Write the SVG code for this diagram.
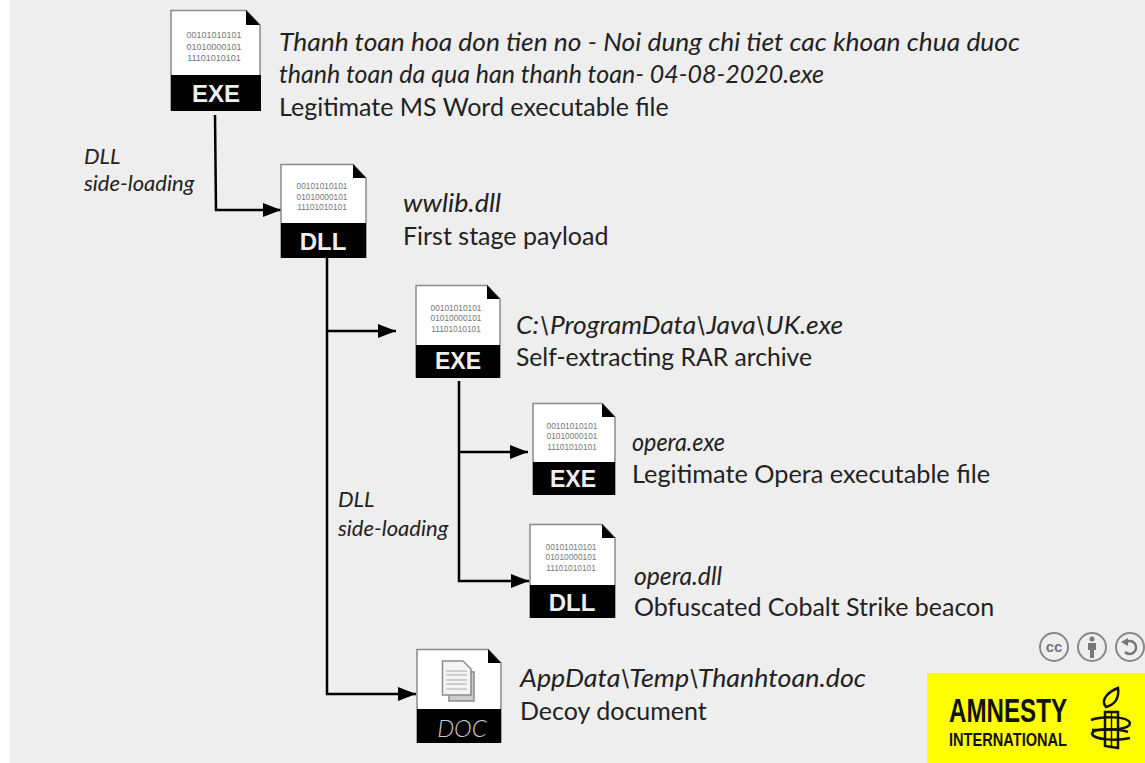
<svg xmlns="http://www.w3.org/2000/svg" width="1145" height="763" viewBox="0 0 1145 763">
<style>
text{font-family:"Lato","Open Sans","Liberation Sans",sans-serif;fill:#222}
.t{font-size:25px}
.i{font-size:26px;font-style:italic}
.s{font-size:22px;font-style:italic}
.body{fill:#fff;stroke:#8a8a8a;stroke-width:1.5}
.fold{fill:#000}
.band{fill:#000}
.lab{font-weight:700;font-size:23px;fill:#eee;text-anchor:middle;font-family:"Liberation Sans",sans-serif}
.bin{font-size:8.300px;fill:#777;text-anchor:middle;font-family:"Liberation Sans",sans-serif}
.c{fill:none;stroke:#000;stroke-width:2.500}
.cc{fill:none;stroke:#888;stroke-width:2}
.logo{font-family:"Liberation Sans",sans-serif;font-weight:700;fill:#111}
</style>
<defs>
<marker id="a" markerUnits="userSpaceOnUse" markerWidth="20" markerHeight="14" refX="18" refY="7" orient="auto"><path d="M0 0L18 7L0 14z" fill="#000"/></marker>
</defs>
<rect width="1145" height="763" fill="#ffffff"/>
<rect x="10" width="1135" height="763" fill="#eeeeee"/>
<g id="connectors">
<path class="c" d="M215 115L216 210H281" marker-end="url(#a)"/>
<path class="c" d="M327 258V694H416" marker-end="url(#a)"/>
<path class="c" d="M327 331H396" marker-end="url(#a)"/>
<path class="c" d="M459 381V581H529" marker-end="url(#a)"/>
<path class="c" d="M459 452H528" marker-end="url(#a)"/>
</g>
<g id="node-exe1">
<path class="body" d="M171 10.500H246L260 25V110H171z"/>
<path class="fold" d="M246 10L260 25H246z"/>
<rect class="band" x="171" y="75" width="90" height="36"/>
<text class="lab" x="216" y="102" style="font-size:24px">EXE</text>
<text class="bin" x="214" y="38" style="font-size:9px">00101010101</text>
<text class="bin" x="214" y="50" style="font-size:9px">01010000101</text>
<text class="bin" x="214" y="61" style="font-size:9px">11101010101</text>
<text class="i" x="279" y="51" textLength="741" lengthAdjust="spacingAndGlyphs">Thanh toan hoa don tien no - Noi dung chi tiet cac khoan chua duoc</text>
<text class="i" x="279" y="83" textLength="545" lengthAdjust="spacingAndGlyphs">thanh toan da qua han thanh toan- 04-08-2020.exe</text>
<text class="t" x="279" y="116">Legitimate MS Word executable file</text>
</g>
<g id="node-dll1">
<path class="body" d="M281 164.500H353L366 178V257H281z"/>
<path class="fold" d="M353 164L366 178H353z"/>
<rect class="band" x="281" y="223" width="85" height="35"/>
<text class="lab" x="323" y="250" style="font-size:24px">DLL</text>
<text class="bin" x="322" y="189">00101010101</text>
<text class="bin" x="322" y="200">01010000101</text>
<text class="bin" x="322" y="210">11101010101</text>
<text class="i" x="403" y="212" textLength="98" lengthAdjust="spacingAndGlyphs">wwlib.dll</text>
<text class="t" x="403" y="245">First stage payload</text>
</g>
<g id="node-exe2">
<path class="body" d="M416 285.500H487L500 299V377H416z"/>
<path class="fold" d="M487 285L500 299H487z"/>
<rect class="band" x="416" y="345" width="84" height="33"/>
<text class="lab" x="458" y="369">EXE</text>
<text class="bin" x="456" y="311">00101010101</text>
<text class="bin" x="456" y="321">01010000101</text>
<text class="bin" x="456" y="332">11101010101</text>
<text class="i" x="516" y="334" textLength="327" lengthAdjust="spacingAndGlyphs">C:\ProgramData\Java\UK.exe</text>
<text class="t" x="516" y="366" textLength="296" lengthAdjust="spacingAndGlyphs">Self-extracting RAR archive</text>
</g>
<g id="node-exe3">
<path class="body" d="M533 403.500H602L615 417V494H533z"/>
<path class="fold" d="M602 403L615 417H602z"/>
<rect class="band" x="533" y="462" width="82" height="33"/>
<text class="lab" x="573" y="487">EXE</text>
<text class="bin" x="572" y="429">00101010101</text>
<text class="bin" x="572" y="439">01010000101</text>
<text class="bin" x="572" y="450">11101010101</text>
<text class="i" x="632" y="451" style="font-size:24.500px" textLength="93" lengthAdjust="spacingAndGlyphs">opera.exe</text>
<text class="t" x="632" y="483" textLength="358" lengthAdjust="spacingAndGlyphs">Legitimate Opera executable file</text>
</g>
<g id="node-dll2">
<path class="body" d="M530 524.500H602L615 538V617H530z"/>
<path class="fold" d="M602 524L615 538H602z"/>
<rect class="band" x="530" y="585" width="85" height="33"/>
<text class="lab" x="572" y="611" style="font-size:24px">DLL</text>
<text class="bin" x="571" y="550">00101010101</text>
<text class="bin" x="571" y="560">01010000101</text>
<text class="bin" x="571" y="571">11101010101</text>
<text class="i" x="634" y="585" style="font-size:24.500px" textLength="88" lengthAdjust="spacingAndGlyphs">opera.dll</text>
<text class="t" x="634" y="616">Obfuscated Cobalt Strike beacon</text>
</g>
<g id="node-doc">
<path class="body" d="M417 649.500H488L501 663V742H417z"/>
<path class="fold" d="M488 649L501 663H488z"/>
<rect class="band" x="417" y="709" width="84" height="34"/>
<g fill="#f4f4f4" stroke="#8a8a8a" stroke-width="1.500">
<path d="M449 670V701H474V672Z" fill="#ccc"/>
<path d="M442.500 661H463L471 669V695H442.500z"/>
</g>
<path d="M446 671H467M446 675H467M446 680H467M446 684H467M446 689H467" stroke="#aaa" fill="none"/>
<text x="462" y="737" text-anchor="middle" style="font-size:24px;font-style:italic;fill:#ccc;font-weight:300">DOC</text>
<text class="i" x="520" y="687" textLength="346" lengthAdjust="spacingAndGlyphs">AppData\Temp\Thanhtoan.doc</text>
<text class="t" x="520" y="720">Decoy document</text>
</g>
<text class="s" x="84" y="164">DLL</text>
<text class="s" x="84" y="191">side-loading</text>
<text class="s" x="338" y="507">DLL</text>
<text class="s" x="338" y="536">side-loading</text>
<g id="license">
<circle class="cc" cx="1054" cy="647" r="14"/>
<text x="1054" y="652" text-anchor="middle" style="font-size:15px;font-weight:700;fill:#777;font-family:'Liberation Sans',sans-serif">cc</text>
<circle class="cc" cx="1092" cy="647" r="14"/>
<circle cx="1092" cy="639" r="2.500" fill="#777"/>
<path d="M1088 643H1096V650H1094V658H1090V650H1088z" fill="#777"/>
<circle class="cc" cx="1130" cy="647" r="14"/>
<path d="M1126 642A6.500 6.500 0 1 1 1125 652" fill="none" stroke="#777" stroke-width="2.500"/>
<path d="M1121 642L1128 638V646Z" fill="#777"/>
</g>
<g id="logo">
<rect x="927" y="673" width="218" height="90" fill="#ffff00"/>
<text class="logo" x="949" y="722" textLength="118" lengthAdjust="spacingAndGlyphs" style="font-size:34px">AMNESTY</text>
<text class="logo" x="949" y="746" textLength="118" lengthAdjust="spacingAndGlyphs" style="font-size:19px">INTERNATIONAL</text>
<g fill="none" stroke="#111" stroke-width="2.500">
<path d="M1105 712H1118V748L1105 746Z"/>
<path d="M1111.500 712V746" stroke-width="1.500"/>
<path d="M1106 707C1100 700 1108 692 1118 688C1119 696 1117 704 1106 707Z"/>
<path d="M1091 720C1102 716 1128 716 1130 723C1130 730 1110 730 1092 730"/>
<path d="M1130 738C1118 741 1094 740 1092 734C1092 728 1118 728 1128 732"/>
</g>
</g>
</svg>
